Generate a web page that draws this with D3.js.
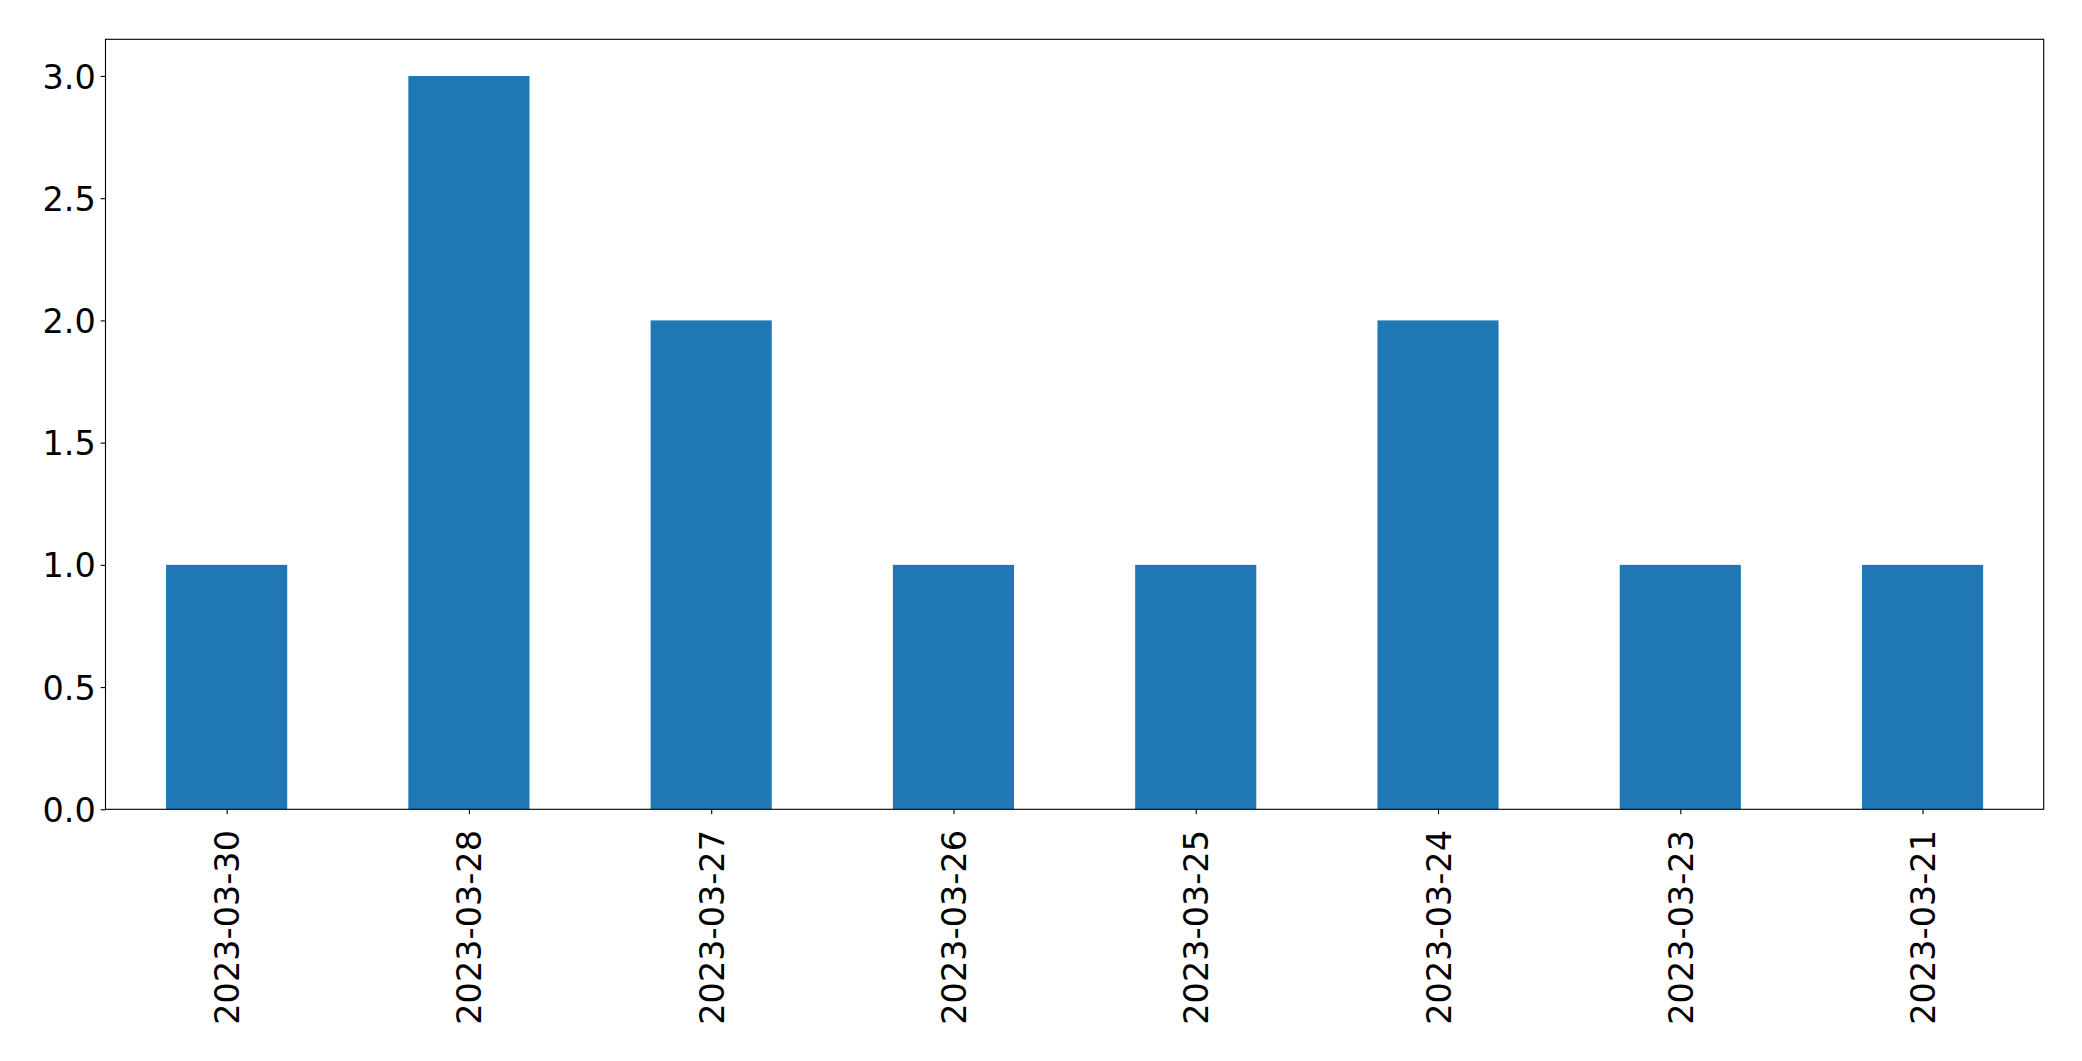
<!DOCTYPE html>
<html lang="en">

<head>
    <meta charset="UTF-8">
    <title>bar</title>
    <script src="https://cdn.jsdelivr.net/npm/d3@7"></script>
    <style>
        body {
            margin: 0;
            background: #fff;
        }

        .axis text {
            font-family: "DejaVu Sans", sans-serif;
            font-size: 33.5px;
            fill: #000;
        }

        .axis path,
        .axis line {
            stroke: #000;
            stroke-width: 1.11px;
        }
    </style>
</head>

<body>
</body>

<script>
    // data
    const dates = ['2023-03-30', '2023-03-28', '2023-03-27', '2023-03-26', '2023-03-25', '2023-03-24', '2023-03-23', '2023-03-21']
    const counts = [1, 3, 2, 1, 1, 2, 1, 1]
    const yTicks = [0, 0.5, 1, 1.5, 2, 2.5, 3]

    const width = 2082
    const height = 1061
    const mLeft = 105.5, mRight = 2043.7, mTop = 39.3, mBottom = 809.3
    const tickLen = 4.86, pad = 4.86

    const svg = d3.select('body').append('svg').attr('width', width).attr('height', height)

    // x: categorical positions 0..n-1, limits -0.5..n-0.5
    const x = d3.scaleLinear()
        .domain([-0.5, dates.length - 0.5])
        .range([mLeft, mRight])

    const y = d3.scaleLinear()
        .domain([0, d3.max(counts) * 1.05])
        .range([mBottom, mTop])

    const barW = 0.5

    svg.selectAll('rect.bar')
        .data(counts)
        .enter()
        .append('rect')
        .attr('class', 'bar')
        .attr('x', (d, i) => x(i - barW / 2))
        .attr('y', d => y(d))
        .attr('width', x(barW) - x(0))
        .attr('height', d => y(0) - y(d))
        .attr('fill', '#1f77b4')

    // frame
    svg.append('rect')
        .attr('x', mLeft)
        .attr('y', mTop)
        .attr('width', mRight - mLeft)
        .attr('height', mBottom - mTop)
        .attr('fill', 'none')
        .attr('stroke', '#000')
        .attr('stroke-width', 1.11)

    // y axis
    const yAxis = d3.axisLeft(y)
        .tickValues(yTicks)
        .tickFormat(d3.format('.1f'))
        .tickSize(tickLen)
        .tickPadding(pad)

    const gy = svg.append('g')
        .attr('class', 'axis')
        .attr('transform', 'translate(' + mLeft + ',0)')
        .call(yAxis)
    gy.select('.domain').remove()
    gy.selectAll('text').attr('dy', '0.36em')

    // x axis
    const xAxis = d3.axisBottom(x)
        .tickValues(d3.range(dates.length))
        .tickFormat(i => dates[i])
        .tickSize(tickLen)
        .tickPadding(0)

    const gx = svg.append('g')
        .attr('class', 'axis')
        .attr('transform', 'translate(0,' + mBottom + ')')
        .call(xAxis)
    gx.select('.domain').remove()
    gx.selectAll('text')
        .attr('transform', 'rotate(-90)')
        .attr('x', -(tickLen + pad + 11))
        .attr('y', 0)
        .attr('dy', '0.36em')
        .attr('text-anchor', 'end')
</script>

</html>
